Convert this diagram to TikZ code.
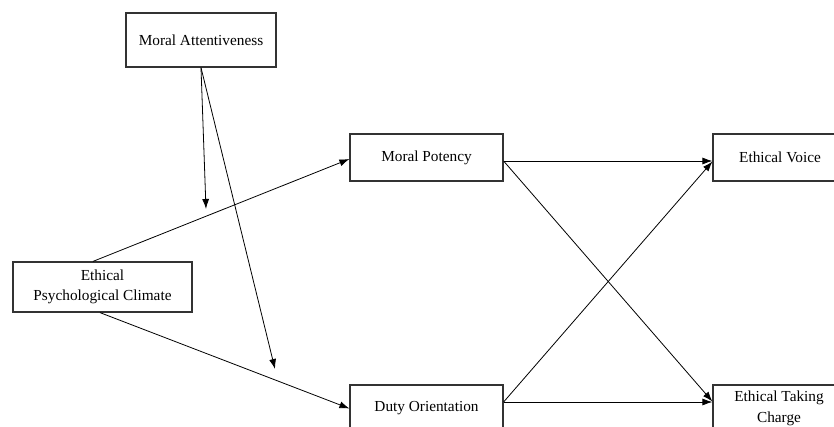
\documentclass[tikz,border=0pt]{standalone}
\usepackage{fontspec}
\setmainfont{Liberation Serif}
\usetikzlibrary{arrows.meta,calc}
\begin{document}
\begin{tikzpicture}[x=1pt,y=-1pt,
  box/.style={draw=black!80,line width=1.2pt,fill=white,inner sep=0pt,align=center,
    font=\fontsize{15.3}{20.5}\selectfont},
  link/.style={draw=black,line width=0.8pt,-{Latex[length=10pt,width=7pt]}}]
\useasboundingbox (0,0) rectangle (834,426);
\clip (0,0) rectangle (834,426);
\node[box,minimum width=150,minimum height=54] (ma) at (201,40) {Moral Attentiveness};
\node[box,minimum width=179,minimum height=50] (epc) at (102.5,287) {Ethical\\Psychological Climate};
\node[box,minimum width=153,minimum height=47] (mp) at (426.5,157.5) {Moral Potency};
\node[box,minimum width=153,minimum height=47] (do) at (426.5,408.5) {Duty Orientation};
\node[box,minimum width=134,minimum height=47] (ev) at (780,157.5) {Ethical Voice};
\node[box,minimum width=132,minimum height=47] (etc) at (779,408.5) {Ethical Taking\\Charge};
\coordinate (m1) at (206,209);
\coordinate (m2) at (275,369);
\draw[link] ($(epc.north west)!0.447!(epc.north east)$) -- ([yshift=-1.5pt]mp.west);
\draw[link] ($(epc.south west)!0.486!(epc.south east)$) -- (do.west);
\draw[link] (ma.south) -- (m1);
\draw[link] (ma.south) -- (m2);
\draw[link] ([yshift=-3.5pt]mp.east) -- ([yshift=-3.5pt]ev.west);
\draw[link] ([yshift=-3.5pt]mp.east) -- ([yshift=7pt]etc.west);
\draw[link] ([yshift=6.5pt]do.east) -- ([yshift=-4pt]ev.west);
\draw[link] ([yshift=6.5pt]do.east) -- ([yshift=6.5pt]etc.west);
\end{tikzpicture}
\end{document}
